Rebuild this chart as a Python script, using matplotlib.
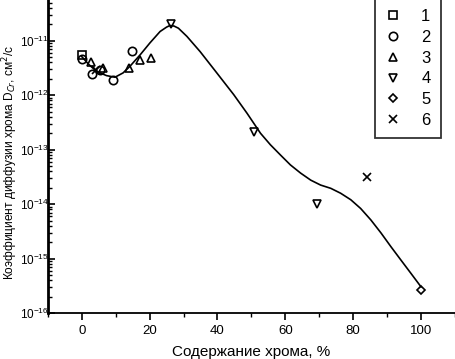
import matplotlib
matplotlib.use("Agg")
import matplotlib.pyplot as plt
from matplotlib.ticker import LogLocator, MultipleLocator

plt.rcParams['font.family'] = ['Liberation Sans', 'DejaVu Sans']

# Data: Cr content (%) and D_Cr (cm^2/s)
x1 = [0.0]
y1 = [5.5e-12]
x2 = [0.0, 3.0, 5.3, 9.3, 14.7]
y2 = [4.7e-12, 2.5e-12, 2.9e-12, 1.9e-12, 6.6e-12]
x3 = [2.6, 6.3, 14.0, 17.2, 20.3]
y3 = [4.0e-12, 3.2e-12, 3.2e-12, 4.5e-12, 4.8e-12]
x4 = [26.3, 50.9, 69.2]
y4 = [2.0e-11, 2.15e-13, 1.0e-14]
x5 = [100.0]
y5 = [2.6e-16]
x6 = [4.3, 84.0]
y6 = [2.85e-12, 3.2e-14]

# Guide curve (log10 of D)
curve_x = [0.0, 2.0, 4.3, 7.3, 9.8, 12.2, 14.2, 17.2, 20.1, 23.1, 25.0, 26.0, 27.2,
           28.5, 31.0, 34.9, 39.8, 44.8, 48.7, 52.7, 55.6, 58.6, 61.5, 64.5,
           67.5, 70.4, 73.4, 76.3, 79.3, 82.2, 85.2, 88.2, 91.1, 94.1, 97.0, 100.0]
curve_logy = [-11.29, -11.43, -11.56, -11.64, -11.67, -11.59, -11.47, -11.26, -11.04,
              -10.83, -10.75, -10.72, -10.73, -10.77, -10.92, -11.20, -11.59, -11.99,
              -12.33, -12.70, -12.91, -13.10, -13.28, -13.43, -13.56, -13.65, -13.71,
              -13.80, -13.92, -14.08, -14.29, -14.53, -14.78, -15.03, -15.27, -15.52]
curve_y = [10 ** v for v in curve_logy]

y_ticks = [1e-16, 1e-15, 1e-14, 1e-13, 1e-12, 1e-11]
x_ticks = [0, 20, 40, 60, 80, 100]

fig = plt.figure(figsize=(4.55, 3.59), dpi=100)
ax = fig.add_axes([0.105, 0.128, 0.895, 0.872])

ax.plot(curve_x, curve_y, color='black', lw=1.2)
mk = dict(color='black', ls='none', mfc='none', mew=1.2, ms=6)
ax.plot(x1, y1, marker='s', label='1', **mk)
ax.plot(x2, y2, marker='o', label='2', **mk)
ax.plot(x3, y3, marker='^', label='3', **mk)
ax.plot(x4, y4, marker='v', label='4', **mk)
ax.plot(x5, y5, marker='D', label='5', **dict(mk, ms=4.5))
ax.plot(x6, y6, marker='x', label='6', **mk)

ax.set_yscale('log')
ax.set_xlim(-10, 110)
ax.set_ylim(1e-16, 5.6e-11)
ax.set_xticks(x_ticks)
ax.set_yticks(y_ticks)
ax.xaxis.set_minor_locator(MultipleLocator(10))
ax.yaxis.set_minor_locator(LogLocator(base=10, subs=range(2, 10), numticks=10))

for s in ['top', 'right']:
    ax.spines[s].set_visible(False)
ax.spines['left'].set_linewidth(2.0)
ax.spines['bottom'].set_linewidth(1.3)
ax.tick_params(axis='y', which='both', direction='in', labelsize=8.5)
ax.tick_params(axis='y', which='major', length=5, width=1.2, pad=-1)
ax.tick_params(axis='y', which='minor', length=3, width=1.0)
ax.tick_params(axis='x', which='both', direction='out', labelsize=9.5)
ax.tick_params(axis='x', which='major', length=5, width=1.2)
ax.tick_params(axis='x', which='minor', length=3, width=1.0)

ax.set_xlabel('Содержание хрома, %', fontsize=11, labelpad=6)
ax.set_ylabel('Коэффициент диффузии хрома D$_{Cr}$, см$^2$/с', fontsize=8.6, labelpad=1)
ax.yaxis.set_label_coords(-0.068, 0.48)

leg = ax.legend(loc='upper right', bbox_to_anchor=(0.985, 1.03), frameon=True,
                fancybox=False, edgecolor='black', fontsize=12, handlelength=1.0,
                handletextpad=1.2, labelspacing=0.35, borderpad=0.6)
leg.get_frame().set_linewidth(1.3)

fig.savefig('out.png', dpi=100)
